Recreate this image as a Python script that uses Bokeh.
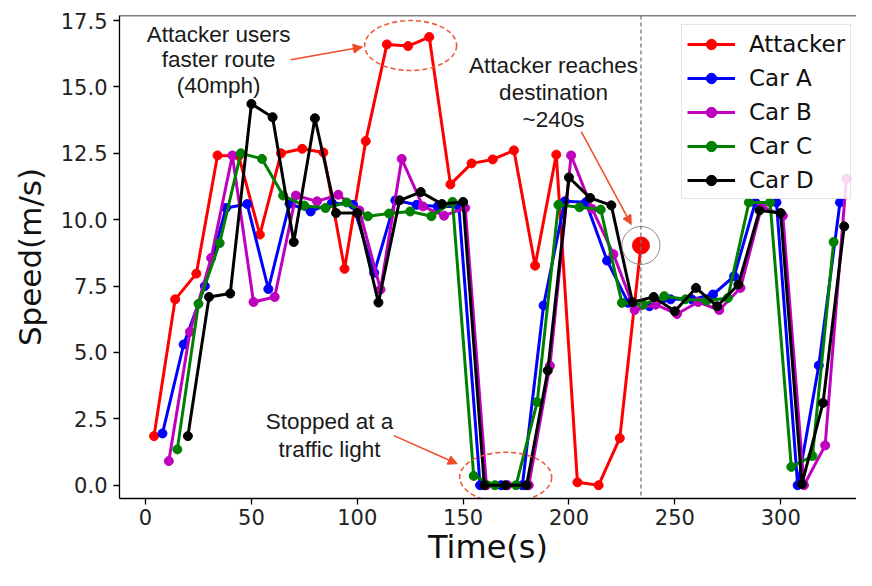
from bokeh.plotting import figure
from bokeh.models import (Range1d, FixedTicker, PrintfTickFormatter, Span, Label,
                          Arrow, NormalHead)
from bokeh.embed import file_html
from bokeh.resources import INLINE

# ---------------- data ----------------
att_t = [4, 14, 24, 34, 44, 54, 64, 74, 84, 94, 104, 114, 124, 134, 144, 154, 164,
         174, 184, 194, 204, 214, 224, 234]
att_v = [1.85, 7.0, 7.97, 12.42, 12.40, 9.44, 12.5, 12.67, 12.53, 8.15, 12.96, 16.6,
         16.54, 16.88, 11.33, 12.12, 12.27, 12.61, 8.27, 12.45, 0.11, 0.0, 1.77, 9.03]

carA_t = list(range(8, 329, 10))
carA_v = [1.95, 5.3, 7.5, 10.44, 10.59, 7.39, 10.6, 10.31, 10.63, 10.56, 8.0, 10.73,
          10.56, 10.5, 10.5, 0.0, 0.0, 0.0, 6.77, 10.69, 10.66, 8.46, 6.87, 6.74, 7.0,
          7.0, 7.18, 7.87, 10.65, 10.65, 0.0, 4.51, 10.65]

carB_t = list(range(11, 332, 10))
carB_v = [0.91, 5.78, 8.56, 12.42, 6.9, 7.09, 10.91, 10.69, 10.94, 10.35, 7.37, 12.29,
          10.5, 10.15, 10.44, 0.0, 0.0, 0.0, 4.5, 12.42, 10.4, 8.7, 6.6, 6.8, 6.45, 6.9,
          6.6, 7.43, 10.5, 10.15, 0.0, 1.5, 11.54]

carC_t = list(range(15, 326, 10))
carC_v = [1.35, 6.83, 9.12, 12.5, 12.29, 10.91, 10.53, 10.44, 10.65, 10.13, 10.23, 10.31,
          10.13, 10.67, 0.35, 0.0, 0.0, 3.13, 10.56, 10.47, 10.38, 6.87, 6.8, 7.12, 7.0,
          6.95, 7.05, 10.65, 10.65, 0.69, 1.1, 9.16]

carD_t = list(range(20, 331, 10))
carD_v = [1.85, 7.09, 7.22, 14.36, 13.86, 9.16, 13.82, 10.25, 10.25, 6.88, 10.73, 11.04,
          10.59, 10.67, 0.0, 0.0, 0.0, 4.32, 11.59, 10.82, 10.54, 6.89, 7.09, 6.55, 7.43,
          6.74, 7.56, 10.35, 10.25, 0.04, 3.1, 9.75]

series_names = ["Attacker", "Car A", "Car B", "Car C", "Car D"]
series_colors = ["#ff0000", "#0000ff", "#bf00bf", "#008000", "#000000"]

x_ticks = [0, 50, 100, 150, 200, 250, 300]
y_ticks = [0.0, 2.5, 5.0, 7.5, 10.0, 12.5, 15.0, 17.5]

x_label = "Time(s)"
y_label = "Speed(m/s)"

# ---------------- figure ----------------
Y_TOP = 17.69
p = figure(width=856, height=570, output_backend="svg", toolbar_location=None,
           x_range=Range1d(-12.3, 335.8), y_range=Range1d(-0.5, Y_TOP),
           min_border_left=119, min_border_right=0, min_border_top=15,
           min_border_bottom=72)
p.outline_line_color = None
p.grid.visible = False

p.xaxis.ticker = FixedTicker(ticks=x_ticks)
p.yaxis.ticker = FixedTicker(ticks=y_ticks)
p.yaxis.formatter = PrintfTickFormatter(format="%.1f")
p.xaxis.axis_label = x_label
p.yaxis.axis_label = y_label
for ax in [p.xaxis[0], p.yaxis[0]]:
    ax.axis_line_color = "black"
    ax.axis_line_width = 1.3
    ax.major_tick_line_color = "black"
    ax.major_tick_line_width = 1.3
    ax.major_tick_out = 6
    ax.major_tick_in = 0
    ax.minor_tick_out = 0
    ax.minor_tick_in = 0
    ax.major_label_text_font = "DejaVu Sans"
    ax.major_label_text_font_size = "21px"
    ax.major_label_text_color = "#222222"
    ax.axis_label_text_font = "DejaVu Sans"
    ax.axis_label_text_font_style = "normal"
    ax.axis_label_text_color = "#111111"
p.xaxis.major_label_standoff = 4
p.yaxis.major_label_standoff = 6
p.xaxis.axis_label_text_font_size = "32px"
p.yaxis.axis_label_text_font_size = "31px"
p.xaxis.axis_label_standoff = 0
p.yaxis.axis_label_standoff = 10

# top spine
p.add_layout(Span(location=Y_TOP, dimension="width", line_color="black", line_width=1.3))

# vertical dashed line at attacker's arrival
p.add_layout(Span(location=att_t[-1], dimension="height", line_color="#777777",
                  line_width=1.3, line_dash="4 3"))

# series
all_t = [att_t, carA_t, carB_t, carC_t, carD_t]
all_v = [att_v, carA_v, carB_v, carC_v, carD_v]
for t, v, name, col in zip(all_t, all_v, series_names, series_colors):
    p.line(t, v, line_color=col, line_width=3, legend_label=name)
    p.scatter(t, v, size=9, fill_color=col, line_color=col, legend_label=name)

# highlighted destination point
p.scatter([att_t[-1]], [att_v[-1]], size=17, fill_color="#ff0000", line_color="#ff0000")
p.scatter([att_t[-1]], [att_v[-1]], size=38, fill_color=None, line_color="#8a8a8a",
          line_width=1)

# dashed ellipses
ell_col = "#f05a3c"
p.ellipse(x=[125.2, 170.1], y=[16.56, 0.30], width=92, height=50,
          width_units="screen", height_units="screen", fill_color=None,
          line_color=ell_col, line_width=1.6, line_dash="5 3")

# arrows
arr_col = "#f04a28"
for xs, ys, xe, ye in [(68.5, 16.02, 102.4, 16.5),
                       (205.8, 13.32, 229.4, 9.82),
                       (117.3, 1.87, 147.2, 0.81)]:
    p.add_layout(Arrow(end=NormalHead(size=9, fill_color=arr_col, line_color=arr_col),
                       x_start=xs, y_start=ys, x_end=xe, y_end=ye,
                       line_color=arr_col, line_width=1.5))

# annotation texts
def add_text(x, y, s):
    p.add_layout(Label(x=x, y=y, text=s, text_align="center",
                       text_baseline="alphabetic", text_font="Liberation Sans",
                       text_font_size="22.5px", text_color="#1a1a1a"))

add_text(34.5, 16.99, "Attacker users")
add_text(34.5, 16.03, "faster route")
add_text(34.5, 15.05, "(40mph)")
add_text(192.7, 15.82, "Attacker reaches")
add_text(192.7, 14.79, "destination")
add_text(192.7, 13.78, "~240s")
add_text(86.9, 2.39, "Stopped at a")
add_text(86.9, 1.35, "traffic light")

# legend
lg = p.legend[0]
lg.location = (562, 299)
lg.margin = 0
lg.padding = 5
lg.spacing = 7
lg.glyph_width = 48
lg.glyph_height = 26
lg.label_height = 27
lg.label_standoff = 14
lg.label_text_font = "DejaVu Sans"
lg.label_text_font_size = "23px"
lg.label_text_color = "#111111"
lg.border_line_color = "#cccccc"
lg.border_line_width = 1
lg.background_fill_alpha = 0.85

open("out.html", "w").write(file_html(p, INLINE))
